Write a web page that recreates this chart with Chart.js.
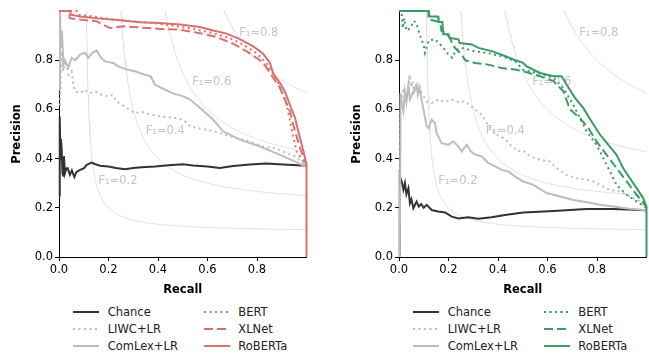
<!DOCTYPE html>
<html>
<head>
<meta charset="utf-8">
<script src="https://cdn.jsdelivr.net/npm/chart.js@4.4.1/dist/chart.umd.min.js"></script>
<style>
  body { margin: 0; background: #fff; width: 649px; height: 354px; overflow: hidden; font-family: "DejaVu Sans", sans-serif; }
  .panel { position: absolute; top: 0; width: 309px; height: 354px; }
  .panel canvas { position: absolute; left: 0; top: 0; }
  .item { position: absolute; height: 16px; line-height: 16px; font-size: 11.5px; color: #222; white-space: nowrap; }
  .item svg { position: absolute; top: 0; }
  .item span { position: absolute; top: 0; }
</style>
</head>
<body>
<div class="panel" id="p0" style="left:0px"><canvas id="c0" width="309" height="300"></canvas></div>
<div class="panel" id="p1" style="left:340px"><canvas id="c1" width="309" height="300"></canvas></div>
<script>
const seriesNames = ['Chance', 'LIWC+LR', 'ComLex+LR', 'BERT', 'XLNet', 'RoBERTa'];
const tickValues = [0, 0.2, 0.4, 0.6, 0.8];
const f1Levels = [0.2, 0.4, 0.6, 0.8];

// left panel, points are [recall, precision]
const leftChance = [[0,0.25],[0.003,0.57],[0.006,0.40],[0.008,0.48],[0.011,0.436],[0.014,0.34],[0.017,0.33],[0.02,0.41],[0.024,0.34],[0.03,0.36],[0.035,0.361],[0.044,0.334],[0.052,0.352],[0.062,0.325],[0.07,0.345],[0.085,0.354],[0.1,0.36],[0.112,0.375],[0.132,0.384],[0.145,0.378],[0.166,0.371],[0.199,0.368],[0.23,0.362],[0.267,0.357],[0.3,0.362],[0.334,0.365],[0.388,0.368],[0.442,0.373],[0.502,0.377],[0.542,0.372],[0.6,0.368],[0.65,0.362],[0.704,0.37],[0.771,0.376],[0.838,0.38],[0.906,0.376],[1.0,0.371]];
const leftLiwc = [[0,0.62],[0.004,0.62],[0.011,0.836],[0.017,0.755],[0.025,0.80],[0.038,0.741],[0.051,0.755],[0.058,0.70],[0.065,0.673],[0.085,0.667],[0.105,0.68],[0.125,0.665],[0.145,0.673],[0.172,0.66],[0.199,0.653],[0.215,0.66],[0.233,0.633],[0.253,0.619],[0.274,0.606],[0.307,0.585],[0.335,0.59],[0.375,0.578],[0.415,0.571],[0.469,0.565],[0.502,0.558],[0.529,0.531],[0.597,0.517],[0.65,0.504],[0.718,0.483],[0.772,0.47],[0.825,0.449],[0.866,0.443],[0.906,0.429],[0.954,0.409],[1.0,0.372]];
const leftComlex = [[0,0.68],[0.004,1.0],[0.008,0.85],[0.012,0.92],[0.018,0.78],[0.024,0.80],[0.038,0.77],[0.051,0.81],[0.065,0.80],[0.085,0.823],[0.105,0.83],[0.118,0.81],[0.135,0.83],[0.152,0.84],[0.17,0.81],[0.186,0.795],[0.219,0.789],[0.24,0.775],[0.274,0.762],[0.307,0.755],[0.347,0.741],[0.37,0.735],[0.388,0.70],[0.415,0.687],[0.455,0.667],[0.502,0.653],[0.53,0.64],[0.57,0.606],[0.623,0.558],[0.664,0.51],[0.731,0.477],[0.812,0.449],[0.893,0.415],[0.95,0.39],[1.0,0.365]];
const leftBert = [[0,1.0],[0.071,1.0],[0.078,0.985],[0.139,0.978],[0.206,0.967],[0.3,0.958],[0.381,0.951],[0.462,0.94],[0.542,0.927],[0.623,0.91],[0.69,0.89],[0.744,0.863],[0.798,0.829],[0.838,0.788],[0.865,0.745],[0.89,0.70],[0.91,0.65],[0.92,0.619],[0.94,0.52],[0.96,0.429],[0.987,0.388],[1.0,0.374]];
const leftXlnet = [[0,1.0],[0.038,1.0],[0.044,0.971],[0.085,0.965],[0.152,0.958],[0.179,0.944],[0.206,0.931],[0.26,0.938],[0.327,0.933],[0.408,0.927],[0.489,0.924],[0.569,0.91],[0.637,0.894],[0.704,0.867],[0.758,0.836],[0.805,0.805],[0.825,0.79],[0.866,0.728],[0.893,0.687],[0.933,0.592],[0.954,0.51],[0.974,0.443],[0.994,0.388],[1.0,0.374]];
const leftRoberta = [[0,1.0],[0.044,1.0],[0.048,0.985],[0.085,0.978],[0.166,0.969],[0.246,0.962],[0.327,0.954],[0.408,0.951],[0.489,0.945],[0.569,0.935],[0.623,0.921],[0.677,0.908],[0.731,0.886],[0.785,0.856],[0.825,0.826],[0.852,0.79],[0.866,0.745],[0.893,0.707],[0.913,0.673],[0.933,0.619],[0.954,0.565],[0.967,0.51],[0.981,0.456],[0.994,0.402],[1.0,0.375],[1.0,0]];

// right panel
const rightChance = [[0,0],[0.003,0.33],[0.011,0.307],[0.018,0.273],[0.024,0.30],[0.03,0.255],[0.038,0.28],[0.044,0.219],[0.05,0.235],[0.058,0.198],[0.071,0.225],[0.08,0.205],[0.09,0.215],[0.1,0.20],[0.112,0.212],[0.132,0.191],[0.158,0.185],[0.186,0.181],[0.213,0.164],[0.24,0.157],[0.28,0.162],[0.32,0.156],[0.374,0.162],[0.428,0.171],[0.502,0.181],[0.624,0.187],[0.758,0.195],[0.866,0.195],[1.0,0.19]];
const rightLiwc = [[0.004,0],[0.006,0.60],[0.018,0.687],[0.03,0.64],[0.044,0.741],[0.05,0.69],[0.055,0.715],[0.06,0.66],[0.07,0.70],[0.081,0.70],[0.09,0.67],[0.112,0.632],[0.132,0.626],[0.158,0.64],[0.185,0.63],[0.213,0.64],[0.24,0.63],[0.267,0.633],[0.3,0.605],[0.334,0.578],[0.36,0.535],[0.39,0.50],[0.428,0.48],[0.455,0.45],[0.48,0.43],[0.502,0.432],[0.53,0.409],[0.57,0.395],[0.61,0.388],[0.637,0.361],[0.677,0.334],[0.718,0.32],[0.758,0.314],[0.785,0.307],[0.812,0.293],[0.852,0.273],[0.893,0.266],[0.933,0.246],[0.973,0.226],[1.0,0.195]];
const rightComlex = [[0.003,0],[0.006,0.667],[0.012,0.62],[0.018,0.592],[0.024,0.673],[0.03,0.63],[0.038,0.70],[0.044,0.64],[0.058,0.673],[0.071,0.70],[0.076,0.66],[0.082,0.69],[0.098,0.604],[0.112,0.531],[0.119,0.524],[0.132,0.558],[0.145,0.545],[0.152,0.504],[0.172,0.463],[0.199,0.456],[0.219,0.47],[0.24,0.449],[0.253,0.429],[0.274,0.456],[0.29,0.43],[0.307,0.416],[0.334,0.409],[0.361,0.382],[0.388,0.368],[0.415,0.354],[0.442,0.348],[0.469,0.327],[0.502,0.307],[0.543,0.293],[0.597,0.26],[0.651,0.246],[0.704,0.232],[0.758,0.223],[0.812,0.212],[0.866,0.205],[0.933,0.196],[1.0,0.19]];
const rightBert = [[0,1.0],[0.01,1.0],[0.015,0.93],[0.02,0.97],[0.03,0.92],[0.045,0.93],[0.06,0.96],[0.07,0.95],[0.085,0.9],[0.1,0.86],[0.105,0.83],[0.12,0.88],[0.145,0.885],[0.16,0.87],[0.18,0.85],[0.199,0.823],[0.215,0.81],[0.23,0.84],[0.253,0.85],[0.307,0.836],[0.361,0.829],[0.415,0.816],[0.469,0.796],[0.502,0.761],[0.57,0.745],[0.624,0.728],[0.664,0.687],[0.704,0.619],[0.731,0.565],[0.758,0.511],[0.798,0.456],[0.839,0.375],[0.879,0.293],[0.92,0.253],[0.96,0.226],[1.0,0.199]];
const rightXlnet = [[0,1.0],[0.12,1.0],[0.125,0.965],[0.165,0.955],[0.172,0.918],[0.19,0.91],[0.206,0.89],[0.22,0.857],[0.253,0.823],[0.267,0.80],[0.307,0.789],[0.361,0.782],[0.415,0.768],[0.469,0.762],[0.502,0.755],[0.57,0.735],[0.624,0.715],[0.664,0.674],[0.691,0.60],[0.731,0.565],[0.765,0.524],[0.798,0.47],[0.839,0.415],[0.879,0.361],[0.92,0.307],[0.96,0.253],[0.994,0.212],[1.0,0.2]];
const rightRoberta = [[0,1.0],[0.119,1.0],[0.119,0.978],[0.158,0.978],[0.16,0.955],[0.175,0.955],[0.179,0.905],[0.20,0.905],[0.205,0.89],[0.24,0.885],[0.245,0.87],[0.294,0.864],[0.321,0.85],[0.375,0.837],[0.428,0.817],[0.47,0.80],[0.50,0.79],[0.516,0.775],[0.57,0.748],[0.624,0.735],[0.657,0.735],[0.677,0.701],[0.711,0.647],[0.745,0.605],[0.778,0.551],[0.812,0.497],[0.846,0.456],[0.879,0.415],[0.906,0.361],[0.933,0.32],[0.96,0.28],[0.987,0.239],[1.0,0.205],[1.0,0]];

// where the F1 captions sit, in data units (left edge, middle)
const f1LabelAt = [[0.159, 0.309], [0.35, 0.513], [0.538, 0.713], [0.728, 0.911]];

const FONT = 'DejaVu Sans';
const DOT = [2, 3.5];
const DASH = [9, 4];

function lineStyles(accent) {
    return [
        { color: '#333333', dash: [] },
        { color: '#bdbdbd', dash: DOT },
        { color: '#bdbdbd', dash: [] },
        { color: accent, dash: DOT },
        { color: accent, dash: DASH },
        { color: accent, dash: [] }
    ];
}

// iso-F1 reference curves: p = f*r / (2r - f)
function isoCurve(f) {
    var r0 = f / (2 - f);
    var pts = [];
    for (var i = 0; i <= 80; i++) {
        var r = r0 + (1 - r0) * Math.pow(i / 80, 2);
        pts.push({ x: r, y: f * r / (2 * r - f) });
    }
    return pts;
}

const f1Captions = {
    id: 'f1Captions',
    beforeDatasetsDraw(chart) {
        const { ctx, scales: { x, y } } = chart;
        ctx.save();
        ctx.font = '11.5px "' + FONT + '"';
        ctx.fillStyle = '#c4c4c4';
        ctx.textAlign = 'left';
        ctx.textBaseline = 'middle';
        f1Levels.forEach(function (f, i) {
            ctx.fillText('F\u2081=' + f.toFixed(1), x.getPixelForValue(f1LabelAt[i][0]), y.getPixelForValue(f1LabelAt[i][1]));
        });
        ctx.restore();
    }
};

function axis(title, isX) {
    return {
        type: 'linear',
        min: 0,
        max: 1,
        afterFit: function (s) { if (isX) s.height = 43; else s.width = 59; },
        afterBuildTicks: function (s) { s.ticks = tickValues.map(v => ({ value: v })); },
        ticks: {
            callback: v => Number(v).toFixed(1),
            color: '#000',
            padding: 2,
            autoSkip: false,
            maxRotation: 0,
            font: { family: FONT, size: 11.5 }
        },
        grid: { drawOnChartArea: false, drawTicks: true, tickLength: 4, color: '#000' },
        border: { display: true, color: '#000', width: 1 },
        title: {
            display: true,
            text: title,
            color: '#000',
            font: { family: FONT, size: 11.5, weight: 'bold' },
            padding: isX ? { top: 0, bottom: 3 } : { top: 10, bottom: 0 }
        }
    };
}

function makeChart(canvasId, panelId, curves, accent) {
    var styles = lineStyles(accent);
    var datasets = f1Levels.map(f => ({
        data: isoCurve(f),
        borderColor: '#e2e2e2',
        borderWidth: 1,
        pointRadius: 0,
        order: 10
    }));
    curves.forEach(function (c, i) {
        datasets.push({
            label: seriesNames[i],
            data: c.map(p => ({ x: p[0], y: p[1] })),
            borderColor: styles[i].color,
            borderDash: styles[i].dash,
            borderWidth: 2,
            pointRadius: 0,
            tension: 0,
            clip: { left: 2, right: 3, top: 3, bottom: 0 },
            order: 6 - i
        });
    });

    new Chart(document.getElementById(canvasId), {
        type: 'line',
        data: { datasets: datasets },
        options: {
            responsive: false,
            animation: false,
            devicePixelRatio: 1,
            layout: { padding: { left: 0, right: 2.5, top: 11, bottom: 0 } },
            plugins: { legend: { display: false }, tooltip: { enabled: false } },
            scales: { x: axis('Recall', true), y: axis('Precision', false) }
        },
        plugins: [f1Captions]
    });

    // legend in two columns under the plot
    var panel = document.getElementById(panelId);
    var rowY = [311.7, 329, 346];
    seriesNames.forEach(function (name, i) {
        var col = i < 3 ? 0 : 1;
        var sx = col ? 203.6 : 73;
        var tx = col ? 238.3 : 107.7;
        var item = document.createElement('div');
        item.className = 'item';
        item.style.left = '0px';
        item.style.top = (rowY[i % 3] - 8) + 'px';
        var dash = styles[i].dash.length ? ' stroke-dasharray="' + styles[i].dash.join(',') + '"' : '';
        item.innerHTML = '<svg width="26" height="16" style="left:' + sx + 'px"><line x1="0" y1="8" x2="26" y2="8" stroke="' +
            styles[i].color + '" stroke-width="2"' + dash + '/></svg><span style="left:' + tx + 'px">' + name + '</span>';
        panel.appendChild(item);
    });
}

makeChart('c0', 'p0', [leftChance, leftLiwc, leftComlex, leftBert, leftXlnet, leftRoberta], '#d9706e');
makeChart('c1', 'p1', [rightChance, rightLiwc, rightComlex, rightBert, rightXlnet, rightRoberta], '#3c9a66');
</script>
</body>
</html>
